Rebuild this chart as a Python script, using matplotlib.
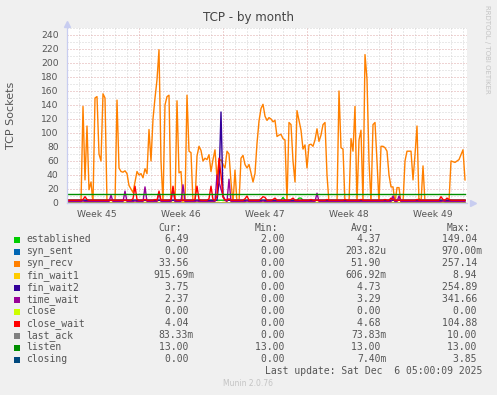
import matplotlib
matplotlib.use("Agg")
import matplotlib.pyplot as plt
from matplotlib.patches import Rectangle
import numpy as np

# samples every 4 hours (6 per day), oldest first
syn_recv = [
    2, 2, 2, 2, 2, 2,
    2, 0, 138, 33, 110, 19,
    30, 0, 150, 152, 70, 60,
    156, 150, 0, 0, 0, 0,
    0, 147, 50, 45, 44, 46,
    42, 25, 20, 15, 30, 45,
    40, 42, 36, 49, 42, 105,
    60, 120, 150, 176, 219, 60,
    0, 140, 152, 154, 0, 0,
    0, 146, 43, 45, 0, 0,
    154, 74, 72, 0, 0, 67,
    81, 75, 60, 64, 62, 69,
    45, 62, 76, 35, 60, 62,
    55, 50, 74, 70, 30, 0,
    47, 0, 0, 64, 68, 55,
    50, 55, 43, 30, 42, 85,
    117, 135, 141, 124, 118, 122,
    120, 116, 118, 95, 97, 98,
    92, 90, 0, 115, 112, 60,
    30, 132, 118, 104, 77, 83,
    50, 83, 84, 81, 90, 106,
    88, 97, 112, 115, 40, 0,
    0, 0, 0, 0, 160, 79,
    77, 0, 0, 0, 92, 74,
    138, 0, 90, 104, 0, 212,
    177, 60, 0, 112, 115, 60,
    0, 81, 81, 79, 74, 40,
    23, 23, 0, 22, 22, 0,
    0, 60, 74, 74, 74, 33,
    69, 110, 0, 0, 53, 0,
    2, 2, 2, 2, 2, 2,
    2, 2, 2, 2, 2, 2,
    60, 59, 58, 60, 62, 69,
    76, 33,
]

close_wait = [
    4, 4, 4, 4, 4, 4, 4, 4, 5, 9, 5, 4,
    4, 4, 4, 4, 4, 4, 4, 4, 4, 4, 4, 4,
    4, 4, 4, 4, 4, 4, 4, 4, 4, 6, 24, 5,
    4, 4, 4, 5, 4, 4, 4, 4, 5, 4, 17, 4,
    4, 4, 4, 4, 5, 24, 5, 4, 4, 4, 4, 4,
    4, 4, 4, 4, 5, 24, 5, 4, 4, 4, 4, 6,
    24, 5, 4, 10, 64, 40, 8, 5, 4, 6, 4, 4,
    4, 4, 4, 4, 4, 6, 10, 4, 4, 4, 4, 4,
    4, 6, 9, 8, 4, 4, 4, 5, 7, 4, 4, 4,
    4, 4, 4, 4, 5, 7, 4, 4, 4, 4, 4, 4,
    4, 4, 5, 4, 4, 4, 4, 4, 4, 4, 5, 4,
    4, 4, 4, 4, 4, 4, 4, 5, 4, 4, 4, 4,
    4, 4, 4, 5, 4, 4, 4, 4, 4, 4, 4, 4,
    4, 4, 4, 5, 4, 4, 7, 5, 4, 4, 4, 4,
    4, 4, 4, 4, 4, 4, 4, 5, 4, 4, 4, 4,
    4, 4, 4, 4, 4, 4, 4, 9, 5, 4, 7, 5,
    4, 4, 4, 4, 4, 4, 4, 4,
]

time_wait = [
    2, 2, 2, 2, 2, 2, 2, 2, 3, 2, 2, 2,
    2, 2, 2, 2, 2, 2, 2, 2, 2, 2, 11, 2,
    2, 2, 2, 2, 2, 17, 2, 2, 2, 2, 3, 2,
    2, 2, 2, 23, 2, 2, 2, 2, 2, 2, 15, 2,
    2, 2, 2, 2, 2, 20, 2, 2, 2, 2, 26, 2,
    2, 2, 2, 2, 2, 3, 2, 2, 2, 2, 2, 2,
    2, 2, 2, 40, 30, 20, 10, 4, 2, 34, 2, 2,
    2, 2, 2, 2, 2, 2, 3, 2, 2, 2, 2, 2,
    2, 2, 3, 2, 2, 2, 2, 2, 2, 2, 2, 2,
    2, 2, 2, 2, 2, 2, 2, 2, 2, 2, 2, 2,
    2, 2, 2, 2, 2, 14, 2, 2, 2, 2, 2, 2,
    2, 2, 2, 2, 2, 2, 2, 2, 2, 2, 2, 2,
    2, 2, 2, 2, 2, 2, 2, 2, 2, 2, 2, 2,
    2, 2, 2, 2, 2, 2, 2, 10, 2, 2, 10, 2,
    2, 2, 2, 2, 2, 2, 2, 2, 2, 2, 2, 2,
    2, 2, 2, 2, 2, 2, 2, 2, 3, 2, 2, 2,
    2, 2, 2, 2, 2, 2, 2, 2,
]

fin_wait2 = [
    4, 4, 4, 4, 4, 4, 4, 4, 4, 4, 4, 4,
    4, 4, 4, 4, 4, 4, 4, 4, 4, 4, 4, 4,
    4, 4, 4, 4, 4, 4, 4, 4, 4, 4, 4, 4,
    4, 4, 4, 4, 4, 4, 4, 4, 4, 4, 4, 4,
    4, 4, 4, 4, 4, 4, 4, 4, 4, 4, 4, 4,
    4, 4, 4, 4, 4, 4, 4, 4, 4, 4, 4, 4,
    4, 4, 4, 4, 30, 130, 10, 4, 4, 4, 4, 4,
    4, 4, 4, 4, 4, 4, 4, 4, 4, 4, 4, 4,
    4, 4, 4, 4, 4, 4, 4, 4, 4, 4, 4, 4,
    4, 4, 4, 4, 4, 4, 4, 4, 4, 4, 4, 4,
    4, 4, 4, 4, 4, 4, 4, 4, 4, 4, 4, 4,
    4, 4, 4, 4, 4, 4, 4, 4, 4, 4, 4, 4,
    4, 4, 4, 4, 4, 4, 4, 4, 4, 4, 4, 4,
    4, 4, 4, 4, 4, 4, 4, 4, 4, 4, 4, 4,
    4, 4, 4, 4, 4, 4, 4, 4, 4, 4, 4, 4,
    4, 4, 4, 4, 4, 4, 4, 4, 4, 4, 4, 4,
    4, 4, 4, 4, 4, 4, 4, 4,
]

established = [
    4, 4, 4, 4, 4, 4, 4, 4, 4, 4, 4, 4,
    4, 4, 4, 4, 4, 4, 4, 4, 4, 4, 4, 4,
    4, 4, 4, 4, 4, 4, 4, 4, 4, 4, 4, 4,
    4, 4, 4, 4, 4, 4, 4, 4, 4, 4, 4, 4,
    4, 4, 4, 4, 4, 4, 4, 4, 4, 4, 4, 4,
    4, 4, 4, 4, 4, 4, 4, 4, 4, 4, 4, 4,
    4, 4, 4, 4, 4, 4, 4, 4, 4, 4, 4, 4,
    4, 4, 4, 4, 4, 4, 4, 4, 4, 4, 4, 4,
    4, 4, 4, 4, 4, 4, 4, 4, 4, 4, 4, 4,
    8, 4, 4, 4, 4, 4, 4, 4, 7, 7, 4, 4,
    4, 4, 4, 4, 4, 4, 4, 4, 4, 4, 4, 4,
    4, 4, 4, 4, 4, 4, 4, 4, 4, 4, 4, 4,
    4, 4, 4, 4, 4, 4, 4, 4, 4, 4, 4, 4,
    4, 4, 4, 4, 4, 4, 4, 4, 4, 4, 4, 4,
    4, 4, 4, 4, 4, 4, 4, 4, 6, 4, 4, 4,
    4, 4, 4, 4, 4, 4, 4, 4, 4, 4, 4, 4,
    4, 4, 4, 4, 4, 4, 4, 4,
]

fin_wait1 = [
    1, 0, 1, 1, 0, 1, 1, 0, 1, 1, 1, 0,
    1, 1, 0, 1, 1, 0, 1, 1, 1, 0, 1, 1,
    0, 1, 1, 0, 1, 1, 1, 0, 1, 1, 0, 1,
    1, 0, 1, 1, 1, 0, 1, 1, 0, 1, 1, 0,
    1, 1, 1, 0, 1, 1, 0, 1, 1, 0, 1, 1,
    1, 0, 1, 1, 0, 1, 1, 0, 1, 1, 1, 0,
    1, 1, 0, 1, 1, 0, 1, 1, 1, 0, 1, 1,
    0, 1, 1, 0, 1, 1, 1, 0, 1, 1, 0, 1,
    1, 0, 1, 1, 1, 0, 1, 1, 0, 1, 1, 0,
    1, 1, 1, 0, 1, 1, 0, 1, 1, 0, 1, 1,
    1, 0, 1, 1, 0, 1, 1, 0, 1, 1, 1, 0,
    1, 1, 0, 1, 1, 0, 1, 1, 1, 0, 1, 1,
    0, 1, 1, 0, 1, 1, 1, 0, 1, 1, 0, 1,
    1, 0, 1, 1, 1, 0, 1, 1, 0, 1, 1, 0,
    1, 1, 1, 0, 1, 1, 0, 1, 1, 0, 1, 1,
    1, 0, 1, 1, 0, 1, 1, 0, 1, 1, 1, 0,
    1, 1, 0, 1, 1, 0, 1, 1,
]

n = len(syn_recv)
syn_sent = [0] * n
close = [0] * n
last_ack = [0] * n
listen = [13] * n
closing = [0] * n

names = ["established", "syn_sent", "syn_recv", "fin_wait1", "fin_wait2",
         "time_wait", "close", "close_wait", "last_ack", "listen", "closing"]
colors = ["#00cc00", "#0066b3", "#ff8000", "#ffcc00", "#330099",
          "#990099", "#ccff00", "#ff0000", "#808080", "#008f00", "#00487d"]
cur = ["6.49", "0.00", "33.56", "915.69m", "3.75", "2.37", "0.00", "4.04", "83.33m", "13.00", "0.00"]
mins = ["2.00", "0.00", "0.00", "0.00", "0.00", "0.00", "0.00", "0.00", "0.00", "13.00", "0.00"]
avgs = ["4.37", "203.82u", "51.90", "606.92m", "4.73", "3.29", "0.00", "4.68", "73.83m", "13.00", "7.40m"]
maxs = ["149.04", "970.00m", "257.14", "8.94", "254.89", "341.66", "0.00", "104.88", "10.00", "13.00", "3.85"]

week_labels = ["Week 45", "Week 46", "Week 47", "Week 48", "Week 49"]
week_centers = [2.5, 9.5, 16.5, 23.5, 30.5]
week_lines = [6, 13, 20, 27]

series = [established, syn_sent, syn_recv, fin_wait1, fin_wait2,
          time_wait, close, close_wait, last_ack, listen, closing]

W, H = 497, 395
fig = plt.figure(figsize=(W / 100, H / 100), dpi=100, facecolor="#f0f0f0")
ax = fig.add_axes([67 / W, 1 - 203 / H, 400 / W, 175 / H])
ax.set_facecolor("white")

days = np.arange(n) / 6.0
xmax = 400 / 12.0
ax.set_xlim(0, xmax)
ax.set_ylim(0, 250)

# grid, munin style
minor = "#d4d4d4"
major = "#dfa8a8"
for d in range(1, 34):
    if d not in week_lines:
        ax.axvline(d, color=minor, lw=0.72, ls=(0, (1, 2)), zorder=0)
for d in week_lines:
    ax.axvline(d, color=major, lw=0.72, ls=(0, (1, 2)), zorder=0)
for v in range(10, 251, 10):
    ax.axhline(v, color=major if v % 20 == 0 else minor, lw=0.72, ls=(0, (1, 2)), zorder=0)

for vals, c in zip(series, colors):
    ax.plot(days, vals, color=c, lw=1.0, zorder=2)

ax.set_yticks(range(0, 241, 20))
ax.set_xticks(week_centers, week_labels)
ax.tick_params(length=0, labelsize=6.6, colors="#555555", pad=6)
ax.tick_params(axis="x", pad=5)
for s in ["top", "right"]:
    ax.spines[s].set_visible(False)
for s in ["left", "bottom"]:
    ax.spines[s].set_color("#c8cdf0")
    ax.spines[s].set_linewidth(0.9)
ax.plot([0], [1.025], marker="^", ms=5, color="#c8cdf0", transform=ax.transAxes, clip_on=False)
ax.plot([1.015], [0], marker=">", ms=5, color="#c8cdf0", transform=ax.transAxes, clip_on=False)


def px(x, y):
    return x / W, 1 - y / H


fig.text(*px(248.5, 18), "TCP - by month", ha="center", va="center", fontsize=8.6, color="#444444")
fig.text(*px(11, 115.5), "TCP Sockets", rotation=90, ha="center", va="center", fontsize=8, color="#555555")
fig.text(*px(487, 5), "RRDTOOL / TOBI OETIKER", rotation=270, ha="center", va="top", fontsize=5, color="#c4c4c4")
fig.text(*px(248, 384), "Munin 2.0.76", ha="center", va="center", fontsize=5.5, color="#c4c4c4")

mono = "DejaVu Sans Mono"
tc = "#555555"
fs = 7
fig.text(*px(158.7, 228), "Cur:", ha="left", va="center", family=mono, fontsize=fs, color=tc)
fig.text(*px(254.7, 228), "Min:", ha="left", va="center", family=mono, fontsize=fs, color=tc)
fig.text(*px(350.7, 228), "Avg:", ha="left", va="center", family=mono, fontsize=fs, color=tc)
fig.text(*px(446.7, 228), "Max:", ha="left", va="center", family=mono, fontsize=fs, color=tc)


def fmt(s):
    return s if s[-1].isalpha() else s + " "


for i, name in enumerate(names):
    y = 239.5 + 12 * i
    fig.add_artist(Rectangle(px(14, y + 3), 6 / W, 6 / H, transform=fig.transFigure,
                             facecolor=colors[i], edgecolor="none"))
    fig.text(*px(26, y), name, ha="left", va="center", family=mono, fontsize=fs, color=tc)
    fig.text(*px(194, y), fmt(cur[i]), ha="right", va="center", family=mono, fontsize=fs, color=tc)
    fig.text(*px(290, y), fmt(mins[i]), ha="right", va="center", family=mono, fontsize=fs, color=tc)
    fig.text(*px(386.7, y), fmt(avgs[i]), ha="right", va="center", family=mono, fontsize=fs, color=tc)
    fig.text(*px(482.7, y), fmt(maxs[i]), ha="right", va="center", family=mono, fontsize=fs, color=tc)

fig.text(*px(482.7, 371.5), "Last update: Sat Dec  6 05:00:09 2025", ha="right", va="center",
         family=mono, fontsize=fs, color=tc)

fig.savefig("out.png", dpi=100, facecolor=fig.get_facecolor())
